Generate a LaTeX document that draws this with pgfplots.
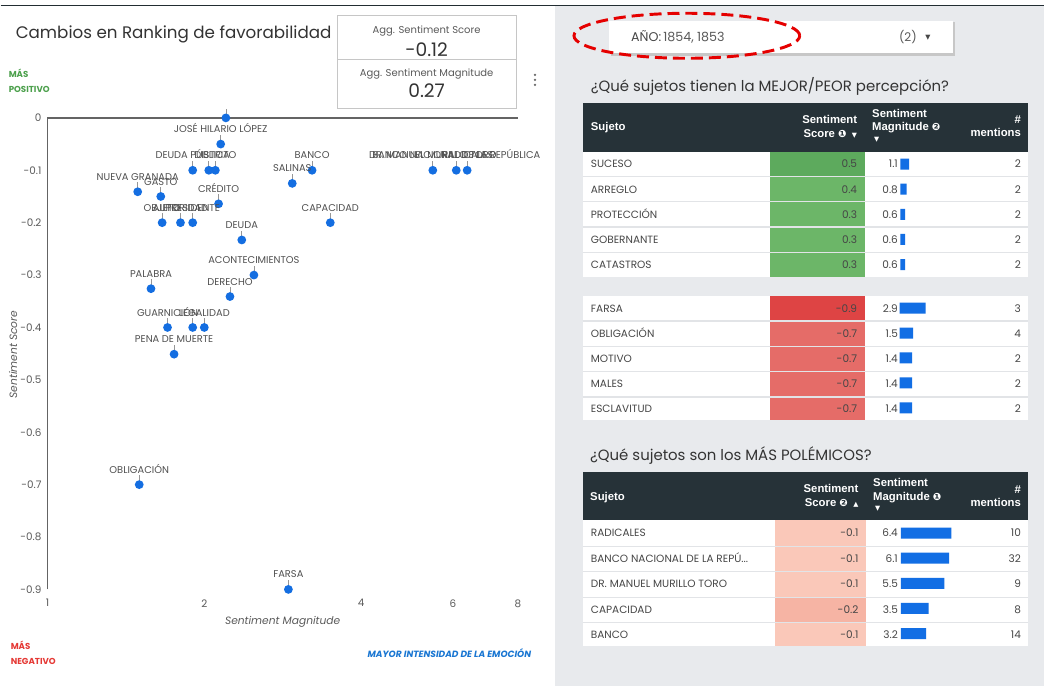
\documentclass[border=0pt]{standalone}
\usepackage{pgfplots}
\pgfplotsset{compat=1.18}
\usepackage{fontspec}
\setmainfont{Poppins}
\newfontfamily\hfont{Liberation Sans}
\newfontfamily\djv{DejaVu Sans}
\definecolor{markblue}{RGB}{20,110,225}
\definecolor{barblue}{RGB}{18,110,228}
\definecolor{hdr}{RGB}{38,50,56}
\definecolor{panel}{RGB}{232,234,237}
\definecolor{gA}{RGB}{93,170,93}
\definecolor{gB}{RGB}{108,182,104}
\definecolor{rA}{RGB}{222,68,68}
\definecolor{rB}{RGB}{229,108,104}
\definecolor{pA}{RGB}{250,200,185}
\definecolor{pB}{RGB}{246,180,164}
\definecolor{posgreen}{RGB}{76,160,76}
\definecolor{negred}{RGB}{229,57,53}
\definecolor{intblue}{RGB}{25,118,210}
\definecolor{dark}{RGB}{51,51,51}
\definecolor{rowtext}{RGB}{70,70,70}
\definecolor{labgray}{RGB}{80,80,80}
\definecolor{tickgray}{RGB}{90,90,90}
\definecolor{axgray}{RGB}{100,100,100}
\definecolor{sep}{RGB}{226,228,231}
\definecolor{pinline}{RGB}{150,150,150}
\newcommand\fs[1]{\fontsize{#1pt}{#1pt}\selectfont}
\pgfdeclareplotmark{pinmark}{%
  \pgfsetstrokecolor{pinline}\pgfsetlinewidth{0.5pt}%
  \pgfpathmoveto{\pgfpointorigin}\pgfpathlineto{\pgfpoint{0pt}{7pt}}\pgfusepathqstroke
  \pgfpathcircle{\pgfpointorigin}{\pgfplotmarksize}\pgfusepathqfill}
% row: #1 top, #2 name, #3 score, #4 colour, #5 cell left, #6 cell right, #7 magnitude, #8 mentions
\newcommand\trow[8]{%
  \fill[#4] (#5,#1) rectangle (#6,{#1+25.3});
  \node[anchor=base west,font=\fs{7.9},text=rowtext] at (590.7,{#1+16.4}) {#2};
  \node[anchor=base east,font=\fs{7.9},text=rowtext] at ({#6-7.3},{#1+16.4}) {#3};
  \node[anchor=base east,font=\fs{7.9},text=rowtext] at (898.5,{#1+16.4}) {#7};
  \node[anchor=base east,font=\fs{7.9},text=rowtext] at (1021.7,{#1+16.4}) {#8};
}
\pgfplotsset{barcol/.style={scale only axis, anchor=north west, xbar, bar width=8.25pt, bar shift=0pt,
  axis lines=none, ticks=none, xmin=0, xmax=10, ymin=0.5, ymax=5.5, y dir=reverse,
  enlargelimits=false, clip=false}}
\begin{document}
\begin{tikzpicture}
\begin{scope}[x=0.75pt,y=-0.75pt,every node/.style={inner sep=0pt}]
\fill[white] (0,0) rectangle (1045,687);
\fill[panel] (555,6) rectangle (1045,687);
\draw[hdr!90!black, line width=0.8pt] (0,5.4) -- (1045,5.4);
% ---------- left panel text
\node[anchor=base west,font=\fs{12.55},text=dark] at (15,39) {Cambios en Ranking de favorabilidad};
\draw[gray!45, line width=0.7pt] (337.3,15) rectangle (516,108.3);
\draw[gray!45, line width=0.7pt] (337.3,59.3) -- (516,59.3);
\node[anchor=base,font=\fs{7.5},text=tickgray] at (426.5,33.5) {Agg. Sentiment Score};
\node[anchor=base,font=\fs{14},text=dark] at (426.5,56.5) {-0.12};
\node[anchor=base,font=\fs{7.5},text=tickgray] at (426.5,76.8) {Agg. Sentiment Magnitude};
\node[anchor=base,font=\fs{14},text=dark] at (426.5,97.5) {0.27};
\foreach \yy in {75,80,85} \fill[gray!80!black] (535,\yy) circle (1.3);
\node[anchor=base west,font=\fs{6.5}\bfseries,text=posgreen] at (8,78) {MÁS};
\node[anchor=base west,font=\fs{6.5}\bfseries,text=posgreen] at (8,93) {POSITIVO};
\node[anchor=base west,font=\fs{6.5}\bfseries,text=negred] at (10,649.7) {MÁS};
\node[anchor=base west,font=\fs{6.5}\bfseries,text=negred] at (10,664.7) {NEGATIVO};
\node[anchor=base east,font=\fs{6.8}\bfseries\itshape,text=intblue] at (531.4,658.2) {MAYOR INTENSIDAD DE LA EMOCIÓN};
\node[anchor=base,font=\fs{8}\itshape,text=tickgray] at (282.4,625.4) {Sentiment Magnitude};
\node[anchor=base,rotate=90,font=\fs{8}\itshape,text=tickgray] at (16.7,355) {Sentiment Score};
% ---------- dropdown
\fill[black!22] (611,22.5) rectangle (955.3,55.8);
\fill[white] (609.3,20.7) rectangle (953.3,53.3);
\node[anchor=base west,font=\fs{9.5}] at (631,42) {\textcolor{rowtext}{AÑO:}\,\textcolor{tickgray}{1854, 1853}};
\node[anchor=base,font=\fs{9},text=tickgray] at (908.3,41.8) {(2)};
\node[anchor=center,font=\djv\fs{5},text=rowtext] at (928.3,37.7) {▼};
\draw[red!90!black, line width=2.2pt, dash pattern=on 9pt off 4.5pt] (687,35.8) ellipse [x radius=84.75pt, y radius=16.9pt];
% ---------- heading 1 and tables 1, 2
\node[anchor=base west,font=\fs{11.2},text=dark] at (590.7,92) {¿Qué sujetos tienen la MEJOR/PEOR percepción?};
\fill[hdr] (582.7,102.7) rectangle (1028.3,151.7);
\fill[white] (582.7,151.7) rectangle (1028.3,277.3);
\begin{scope}[every node/.append style={font=\hfont\bfseries\fs{8.5},text=white}]
\node[anchor=base west] at (590.7,130.8) {Sujeto};
\node[anchor=base east] at (857.7,124.1) {Sentiment};
\node[anchor=base east] at (857.7,137.4) {Score {\djv\fs{7.5}❶}\hspace{4pt}{\djv\fs{5}▼}};
\node[anchor=base west] at (872.3,117.4) {Sentiment};
\node[anchor=base west] at (872.3,130.8) {Magnitude {\djv\fs{7.5}❷}};
\node[anchor=center,font=\djv\fs{5}] at (877,140) {▼};
\node[anchor=base east] at (1021.7,124.1) {\#};
\node[anchor=base east] at (1021.7,136.8) {mentions};
\end{scope}
\trow{151.7}{SUCESO}{0.5}{gA}{770.7}{865}{1.1}{2}
\trow{176.8}{ARREGLO}{0.4}{gB}{770.7}{865}{0.8}{2}
\trow{202.0}{PROTECCIÓN}{0.3}{gB}{770.7}{865}{0.6}{2}
\trow{227.2}{GOBERNANTE}{0.3}{gB}{770.7}{865}{0.6}{2}
\trow{252.4}{CATASTROS}{0.3}{gB}{770.7}{865}{0.6}{2}
\fill[panel] (582.7,277.3) rectangle (1028.3,296);
\foreach \yy in {176.8,202.0,227.2,252.4} \draw[sep, line width=0.9pt] (582.7,\yy) -- (1028.3,\yy);
\fill[white] (582.7,296) rectangle (1028.3,420.7);
\trow{296.0}{FARSA}{-0.9}{rA}{770.7}{865}{2.9}{3}
\trow{321.0}{OBLIGACIÓN}{-0.7}{rB}{770.7}{865}{1.5}{4}
\trow{346.3}{MOTIVO}{-0.7}{rB}{770.7}{865}{1.4}{2}
\trow{371.6}{MALES}{-0.7}{rB}{770.7}{865}{1.4}{2}
\trow{396.9}{ESCLAVITUD}{-0.7}{rB}{770.7}{865}{1.4}{2}
\fill[panel] (582.7,420.9) rectangle (1028.3,440);
\foreach \yy in {321.3,346.7,372,397.3} \draw[sep, line width=0.9pt] (582.7,\yy) -- (1028.3,\yy);
% ---------- heading 2 and table 3
\node[anchor=base west,font=\fs{11.2},text=dark] at (590,461) {¿Qué sujetos son los MÁS POLÉMICOS?};
\fill[hdr] (582.7,472.3) rectangle (1028.3,521);
\fill[white] (582.7,521) rectangle (1028.3,646.7);
\begin{scope}[every node/.append style={font=\hfont\bfseries\fs{8.5},text=white}]
\node[anchor=base west] at (590,500.8) {Sujeto};
\node[anchor=base east] at (859,493.4) {Sentiment};
\node[anchor=base east] at (859,506.8) {Score {\djv\fs{7.5}❷}\hspace{4pt}{\djv\fs{5}▲}};
\node[anchor=base west] at (873.3,486.8) {Sentiment};
\node[anchor=base west] at (873.3,500.8) {Magnitude {\djv\fs{7.5}❶}};
\node[anchor=center,font=\djv\fs{5}] at (878,509) {▼};
\node[anchor=base east] at (1021.7,494.1) {\#};
\node[anchor=base east] at (1021.7,506.8) {mentions};
\end{scope}
\trow{521.0}{RADICALES}{-0.1}{pA}{775}{866.3}{6.4}{10}
\trow{546.4}{BANCO NACIONAL DE LA REPÚ...}{-0.1}{pA}{775}{866.3}{6.1}{32}
\trow{572.0}{DR. MANUEL MURILLO TORO}{-0.1}{pA}{775}{866.3}{5.5}{9}
\trow{597.4}{CAPACIDAD}{-0.2}{pB}{775}{866.3}{3.5}{8}
\trow{622.7}{BANCO}{-0.1}{pA}{775}{866.3}{3.2}{14}
\fill[panel] (582.7,646.9) rectangle (1028.3,687);
\foreach \yy in {546.7,572.3,597.7,623} \draw[sep, line width=0.9pt] (582.7,\yy) -- (1028.3,\yy);
\end{scope}
% ---------- magnitude bars
\begin{axis}[barcol, at={(675.5pt,-113.8pt)}, width=60pt, height=94.2pt]
\addplot[fill=barblue, draw=none] coordinates {(1.1,1) (0.8,2) (0.6,3) (0.6,4) (0.6,5)};
\end{axis}
\begin{axis}[barcol, at={(675pt,-222pt)}, width=67.5pt, height=93.5pt]
\addplot[fill=barblue, draw=none] coordinates {(2.9,1) (1.5,2) (1.4,3) (1.4,4) (1.4,5)};
\end{axis}
\begin{axis}[barcol, at={(676pt,-390.75pt)}, width=59.25pt, height=94.3pt]
\addplot[fill=barblue, draw=none] coordinates {(6.4,1) (6.1,2) (5.5,3) (3.5,4) (3.2,5)};
\end{axis}
% ---------- scatter
\begin{axis}[at={(35.25pt,-442.5pt)}, anchor=south west, scale only axis,
  width=353.25pt, height=354pt,
  xmode=log, log basis x=2, xmin=1, xmax=8, ymin=-0.9, ymax=0,
  axis y line=left, axis x line=bottom,
  x axis line style={draw=none},
  y axis line style={draw=axgray, line width=1.1pt, -},
  xtick={1,2,4,6,8}, xticklabels={1,2,4,6,8},
  ytick={-0.9,-0.8,-0.7,-0.6,-0.5,-0.4,-0.3,-0.2,-0.1,0},
  yticklabels={-0.9,-0.8,-0.7,-0.6,-0.5,-0.4,-0.3,-0.2,-0.1,0},
  major tick length=0pt,
  tick label style={font=\fs{7.8}, text=tickgray},
  xticklabel style={yshift=-4pt},
  yticklabel style={xshift=-1pt},
  clip=false]
\draw[axgray, line width=1.1pt] (axis cs:1,0) -- (axis cs:8,0);
\addplot[only marks, mark=pinmark, mark size=3.3pt, color=markblue,
  nodes near coords, point meta=explicit symbolic,
  nodes near coords style={font=\fs{7.4}, text=labgray, anchor=base, yshift=8.6pt, inner sep=0pt}]
  table[col sep=comma, x=x, y=y, meta=label] {
x,y,label
2.20,0,{}
2.15,-0.05,JOSÉ HILARIO LÓPEZ
1.90,-0.10,DEUDA PÚBLICA
2.04,-0.10,{}
2.10,-0.10,DISTRITO
1.49,-0.141,NUEVA GRANADA
1.65,-0.15,GASTO
2.13,-0.164,CRÉDITO
1.66,-0.20,OBJETO
1.80,-0.20,AUTORIDAD
1.90,-0.20,PRESIDENTE
2.36,-0.233,DEUDA
2.49,-0.30,ACONTECIMIENTOS
1.58,-0.326,PALABRA
2.24,-0.341,DERECHO
1.70,-0.40,GUARNICIÓN
1.90,-0.40,{}
2.00,-0.40,LEGALIDAD
1.75,-0.451,PENA DE MUERTE
1.50,-0.70,OBLIGACIÓN
2.90,-0.90,FARSA
3.22,-0.10,BANCO
2.95,-0.125,SALINAS
3.49,-0.20,CAPACIDAD
5.49,-0.10,DR. MANUEL MURILLO TORO
6.09,-0.10,BANCO NACIONAL DE LA REPÚBLICA
6.39,-0.10,RADICALES
};
\end{axis}
\end{tikzpicture}
\end{document}
